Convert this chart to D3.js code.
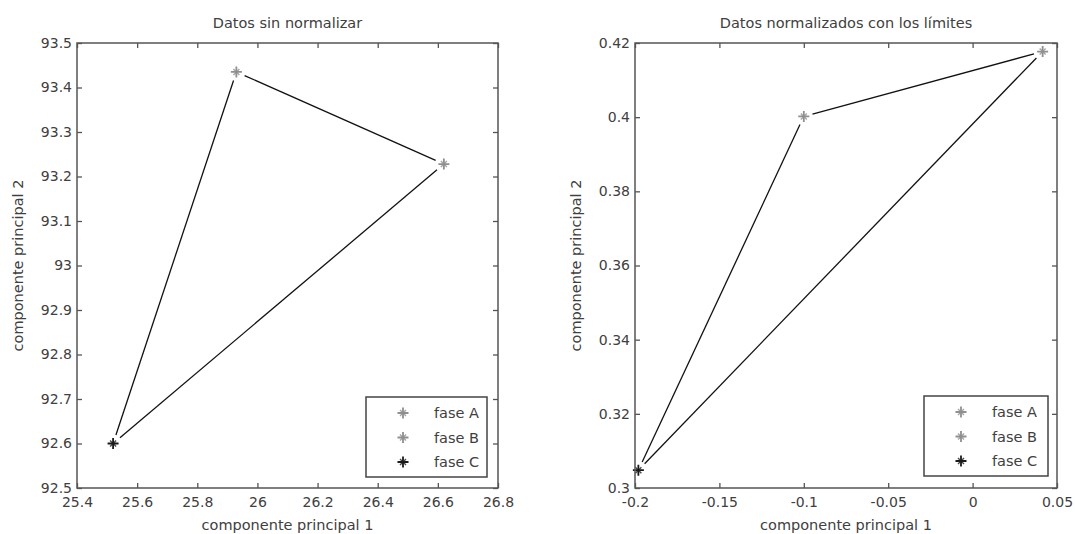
<!DOCTYPE html>
<html><head><meta charset="utf-8">
<script src="https://cdn.jsdelivr.net/npm/d3@7"></script>
<style>body{margin:0;background:#fff}svg{display:block}</style>
</head><body><svg id="c" width="1075" height="534"></svg>
<script>
const phases = ["fase A", "fase B", "fase C"];
const phaseColors = ["#8f8f8f", "#8f8f8f", "#1a1a1a"];
// Left panel: raw data
const rawX = [25.93, 26.62, 25.52];
const rawY = [93.435, 93.228, 92.60];
// Right panel: normalized data
const normX = [0.0415, -0.100, -0.198];
const normY = [0.4177, 0.4002, 0.3048];
const rawXTicks = [25.4, 25.6, 25.8, 26, 26.2, 26.4, 26.6, 26.8];
const rawYTicks = [92.5, 92.6, 92.7, 92.8, 92.9, 93, 93.1, 93.2, 93.3, 93.4, 93.5];
const normXTicks = [-0.2, -0.15, -0.1, -0.05, 0, 0.05];
const normYTicks = [0.3, 0.32, 0.34, 0.36, 0.38, 0.4, 0.42];
const titles = ["Datos sin normalizar", "Datos normalizados con los límites"];
const xLabel = "componente principal 1";
const yLabel = "componente principal 2";

const svg = d3.select("#c");
const FONT = "DejaVu Sans, sans-serif";
const TXT = "#404040";

function panel(cfg) {
  const {left, right, top, bottom, xs, ys, xTicks, yTicks, xDom, yDom, title, legend} = cfg;
  const x = d3.scaleLinear().domain(xDom).range([left, right]);
  const y = d3.scaleLinear().domain(yDom).range([bottom, top]);
  const g = svg.append("g");
  const fmt = d => String(+d.toFixed(4));

  // lines (triangle) with gaps near markers
  const pts = xs.map((v, i) => [x(v), y(ys[i])]);
  const pairs = [[0, 1], [1, 2], [2, 0]];
  const gap = 9;
  pairs.forEach(([a, b]) => {
    const [x1, y1] = pts[a], [x2, y2] = pts[b];
    const L = Math.hypot(x2 - x1, y2 - y1);
    const ux = (x2 - x1) / L, uy = (y2 - y1) / L;
    g.append("line")
      .attr("x1", x1 + ux * gap).attr("y1", y1 + uy * gap)
      .attr("x2", x2 - ux * gap).attr("y2", y2 - uy * gap)
      .attr("stroke", "#111").attr("stroke-width", 1.3);
  });

  // markers
  const star = (cx, cy, col, gg) => {
    const s = 5.5, d = 3;
    gg.append("path")
      .attr("d", `M${cx - s},${cy}H${cx + s}M${cx},${cy - s}V${cy + s}`)
      .attr("stroke", col).attr("stroke-width", 1.8).attr("fill", "none");
    gg.append("path")
      .attr("d", `M${cx - d},${cy - d}L${cx + d},${cy + d}M${cx - d},${cy + d}L${cx + d},${cy - d}`)
      .attr("stroke", col).attr("stroke-width", 1.4).attr("fill", "none").attr("opacity", 0.8);
  };
  pts.forEach((p, i) => star(p[0], p[1], phaseColors[i], g));

  // axes box
  const axisCol = "#555";
  const bx = g.append("g");
  const xb = d3.axisBottom(x).tickValues(xTicks).tickSizeInner(-5).tickSizeOuter(0).tickPadding(6).tickFormat(fmt);
  const xt = d3.axisTop(x).tickValues(xTicks).tickSizeInner(-5).tickSizeOuter(0).tickFormat("");
  const yl = d3.axisLeft(y).tickValues(yTicks).tickSizeInner(-5).tickSizeOuter(0).tickPadding(5).tickFormat(fmt);
  const yr = d3.axisRight(y).tickValues(yTicks).tickSizeInner(-5).tickSizeOuter(0).tickFormat("");
  const gx = bx.append("g").attr("transform", `translate(0,${bottom})`).call(xb);
  bx.append("g").attr("transform", `translate(0,${top})`).call(xt);
  bx.append("g").attr("transform", `translate(${left},0)`).call(yl);
  bx.append("g").attr("transform", `translate(${right},0)`).call(yr);
  bx.selectAll(".domain").attr("stroke", "none");
  bx.selectAll(".tick line").attr("stroke", axisCol).attr("stroke-width", 1.3);
  bx.selectAll("text").attr("font-family", FONT).attr("font-size", 14).attr("fill", TXT);
  gx.selectAll("text").attr("dy", "0.9em");
  g.append("rect").attr("x", left).attr("y", top).attr("width", right - left).attr("height", bottom - top)
    .attr("fill", "none").attr("stroke", axisCol).attr("stroke-width", 1.5);

  // title & labels
  g.append("text").attr("x", (left + right) / 2).attr("y", 28).attr("text-anchor", "middle")
    .attr("font-family", FONT).attr("font-size", 14.5).attr("fill", TXT).text(title);
  g.append("text").attr("x", (left + right) / 2).attr("y", 530).attr("text-anchor", "middle")
    .attr("font-family", FONT).attr("font-size", 14.5).attr("fill", TXT).text(xLabel);
  g.append("text").attr("transform", `translate(${cfg.yLabelX},${(top + bottom) / 2}) rotate(-90)`)
    .attr("text-anchor", "middle").attr("font-family", FONT).attr("font-size", 14.5).attr("fill", TXT).text(yLabel);

  // legend
  const lg = g.append("g");
  lg.append("rect").attr("x", legend.x).attr("y", legend.y).attr("width", legend.w).attr("height", legend.h)
    .attr("fill", "#fff").attr("stroke", "#444").attr("stroke-width", 1.5);
  phases.forEach((p, i) => {
    const yy = legend.y + 16 + i * 24.5;
    star(legend.x + 37, yy, phaseColors[i], lg);
    lg.append("text").attr("x", legend.x + 68).attr("y", yy + 5)
      .attr("font-family", FONT).attr("font-size", 14.5).attr("fill", TXT).text(p);
  });
}

panel({left: 77, right: 498, top: 43, bottom: 488, xs: rawX, ys: rawY,
  xTicks: rawXTicks, yTicks: rawYTicks, xDom: [25.4, 26.8], yDom: [92.5, 93.5],
  title: titles[0], yLabelX: 23, legend: {x: 366, y: 397, w: 121, h: 80}});
panel({left: 635, right: 1057, top: 43, bottom: 488, xs: normX, ys: normY,
  xTicks: normXTicks, yTicks: normYTicks, xDom: [-0.2, 0.05], yDom: [0.3, 0.42],
  title: titles[1], yLabelX: 581, legend: {x: 924, y: 396, w: 124, h: 80}});
</script></body></html>
